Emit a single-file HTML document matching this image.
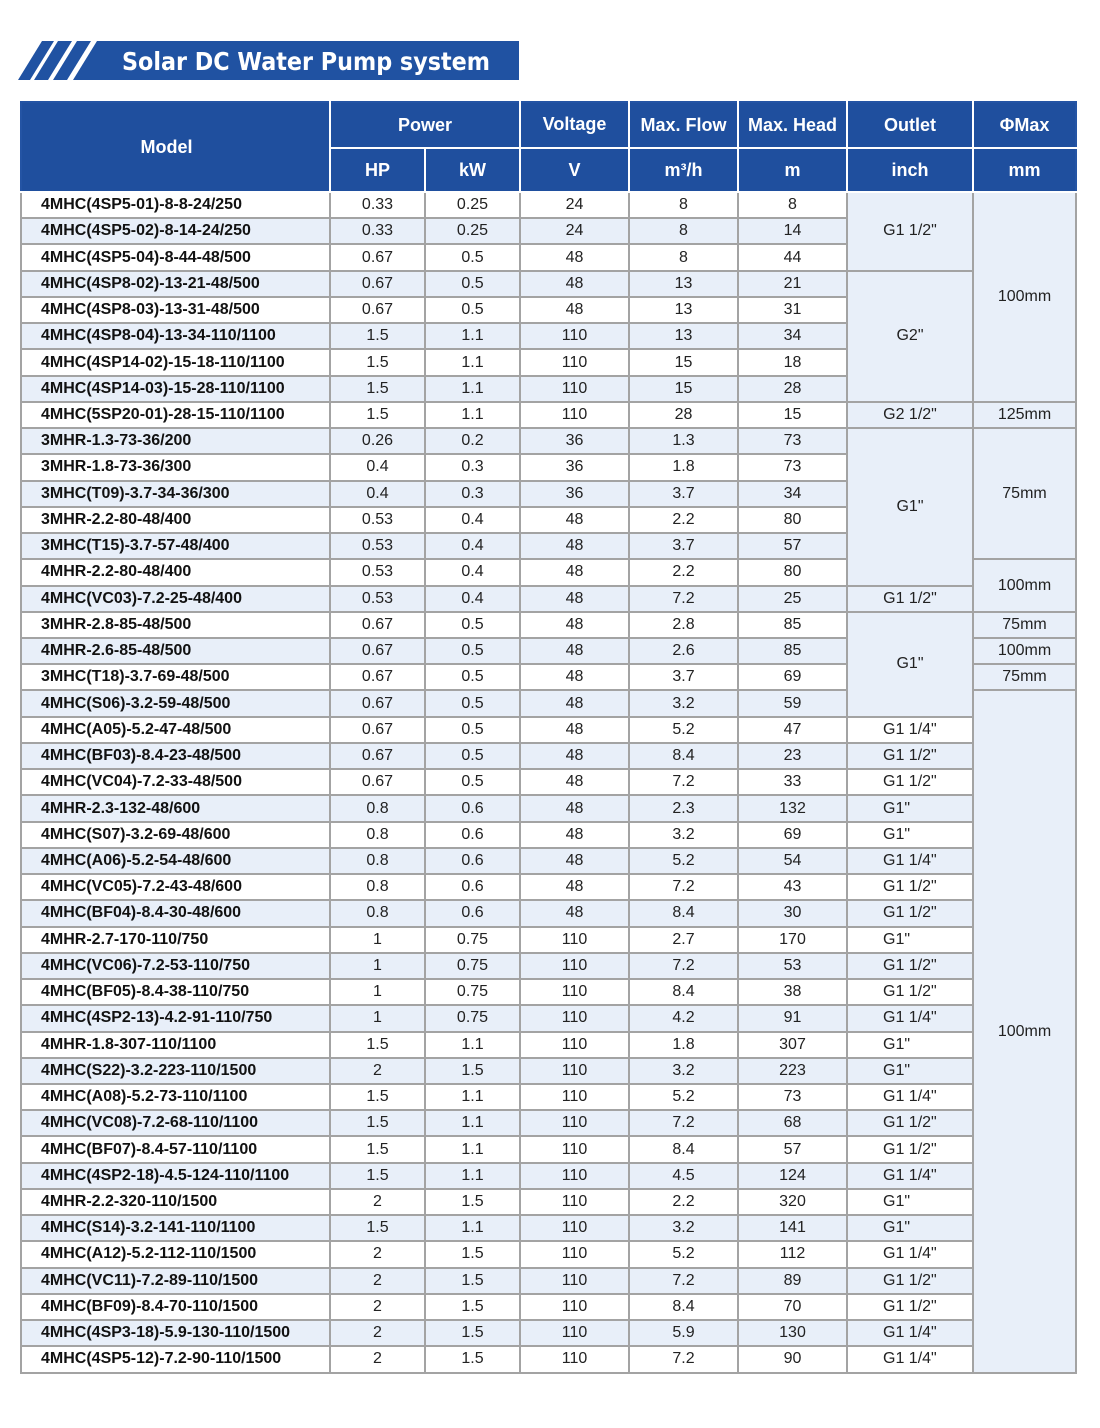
<!DOCTYPE html>
<html><head><meta charset="utf-8"><style>
body{margin:0;background:#fff;width:1100px;height:1428px;position:relative;font-family:"Liberation Sans",Arial,sans-serif;}
#title{position:absolute;left:0;top:0;}
table{position:absolute;left:20px;top:101px;width:1055px;border-collapse:collapse;table-layout:fixed;border:2px solid #2454a4;}
th{background:#1f4f9e;color:#fff;font-weight:bold;font-size:18px;border:2px solid #fff;border-top:none;padding:0;line-height:18px;}
tr.h1{height:46px}
tr.h2{height:44px}
th:first-child{border-left:none}
th:last-child{border-right:none}
tbody tr{height:26.24px}
td{border:2px solid #a3a3a3;padding:0;font-size:16px;color:#222;text-align:center;line-height:18px;}
td.m{text-align:left;padding-left:19px;font-weight:bold;color:#111;}
tr:nth-child(odd) td{background:#fff}
tr:nth-child(even) td{background:#e8eff9}
tr td.b{background:#e8eff9 !important}
td.o{text-align:left;padding-left:35px}
</style></head><body>
<svg id="title" width="560" height="90">
<polygon points="42,41 54,41 30,80 18,80" fill="#2052a2"/>
<polygon points="58,41 72,41 48,80 34,80" fill="#2052a2"/>
<polygon points="77,41 91,41 67,80 53,80" fill="#2052a2"/>
<polygon points="97,41 519,41 519,80 73,80" fill="#2052a2"/>
<text x="122" y="70" fill="#fff" font-family="DejaVu Sans, Liberation Sans, sans-serif" font-weight="bold" font-size="25" textLength="368" lengthAdjust="spacingAndGlyphs">Solar DC Water Pump system</text>
</svg>
<table>
<colgroup><col style="width:309px"><col style="width:95px"><col style="width:95px"><col style="width:109px"><col style="width:109px"><col style="width:109px"><col style="width:126px"><col style="width:103px"></colgroup>
<thead>
<tr class="h1"><th rowspan="2" style="padding-right:18px">Model</th><th colspan="2">Power</th><th style="vertical-align:top;padding-top:12px">Voltage</th><th>Max. Flow</th><th>Max. Head</th><th>Outlet</th><th>ΦMax</th></tr>
<tr class="h2"><th>HP</th><th>kW</th><th>V</th><th>m³/h</th><th>m</th><th>inch</th><th>mm</th></tr>
</thead>
<tbody>
<tr><td class="m">4MHC(4SP5-01)-8-8-24/250</td><td>0.33</td><td>0.25</td><td>24</td><td>8</td><td>8</td><td rowspan="3" class="b">G1 1/2"</td><td rowspan="8" class="b">100mm</td></tr>
<tr><td class="m">4MHC(4SP5-02)-8-14-24/250</td><td>0.33</td><td>0.25</td><td>24</td><td>8</td><td>14</td></tr>
<tr><td class="m">4MHC(4SP5-04)-8-44-48/500</td><td>0.67</td><td>0.5</td><td>48</td><td>8</td><td>44</td></tr>
<tr><td class="m">4MHC(4SP8-02)-13-21-48/500</td><td>0.67</td><td>0.5</td><td>48</td><td>13</td><td>21</td><td rowspan="5" class="b">G2"</td></tr>
<tr><td class="m">4MHC(4SP8-03)-13-31-48/500</td><td>0.67</td><td>0.5</td><td>48</td><td>13</td><td>31</td></tr>
<tr><td class="m">4MHC(4SP8-04)-13-34-110/1100</td><td>1.5</td><td>1.1</td><td>110</td><td>13</td><td>34</td></tr>
<tr><td class="m">4MHC(4SP14-02)-15-18-110/1100</td><td>1.5</td><td>1.1</td><td>110</td><td>15</td><td>18</td></tr>
<tr><td class="m">4MHC(4SP14-03)-15-28-110/1100</td><td>1.5</td><td>1.1</td><td>110</td><td>15</td><td>28</td></tr>
<tr><td class="m">4MHC(5SP20-01)-28-15-110/1100</td><td>1.5</td><td>1.1</td><td>110</td><td>28</td><td>15</td><td class="b">G2 1/2"</td><td class="b">125mm</td></tr>
<tr><td class="m">3MHR-1.3-73-36/200</td><td>0.26</td><td>0.2</td><td>36</td><td>1.3</td><td>73</td><td rowspan="6" class="b">G1"</td><td rowspan="5" class="b">75mm</td></tr>
<tr><td class="m">3MHR-1.8-73-36/300</td><td>0.4</td><td>0.3</td><td>36</td><td>1.8</td><td>73</td></tr>
<tr><td class="m">3MHC(T09)-3.7-34-36/300</td><td>0.4</td><td>0.3</td><td>36</td><td>3.7</td><td>34</td></tr>
<tr><td class="m">3MHR-2.2-80-48/400</td><td>0.53</td><td>0.4</td><td>48</td><td>2.2</td><td>80</td></tr>
<tr><td class="m">3MHC(T15)-3.7-57-48/400</td><td>0.53</td><td>0.4</td><td>48</td><td>3.7</td><td>57</td></tr>
<tr><td class="m">4MHR-2.2-80-48/400</td><td>0.53</td><td>0.4</td><td>48</td><td>2.2</td><td>80</td><td rowspan="2" class="b">100mm</td></tr>
<tr><td class="m">4MHC(VC03)-7.2-25-48/400</td><td>0.53</td><td>0.4</td><td>48</td><td>7.2</td><td>25</td><td class="b">G1 1/2"</td></tr>
<tr><td class="m">3MHR-2.8-85-48/500</td><td>0.67</td><td>0.5</td><td>48</td><td>2.8</td><td>85</td><td rowspan="4" class="b">G1"</td><td class="b">75mm</td></tr>
<tr><td class="m">4MHR-2.6-85-48/500</td><td>0.67</td><td>0.5</td><td>48</td><td>2.6</td><td>85</td><td class="b">100mm</td></tr>
<tr><td class="m">3MHC(T18)-3.7-69-48/500</td><td>0.67</td><td>0.5</td><td>48</td><td>3.7</td><td>69</td><td class="b">75mm</td></tr>
<tr><td class="m">4MHC(S06)-3.2-59-48/500</td><td>0.67</td><td>0.5</td><td>48</td><td>3.2</td><td>59</td><td rowspan="26" class="b">100mm</td></tr>
<tr><td class="m">4MHC(A05)-5.2-47-48/500</td><td>0.67</td><td>0.5</td><td>48</td><td>5.2</td><td>47</td><td class="o">G1 1/4"</td></tr>
<tr><td class="m">4MHC(BF03)-8.4-23-48/500</td><td>0.67</td><td>0.5</td><td>48</td><td>8.4</td><td>23</td><td class="o">G1 1/2"</td></tr>
<tr><td class="m">4MHC(VC04)-7.2-33-48/500</td><td>0.67</td><td>0.5</td><td>48</td><td>7.2</td><td>33</td><td class="o">G1 1/2"</td></tr>
<tr><td class="m">4MHR-2.3-132-48/600</td><td>0.8</td><td>0.6</td><td>48</td><td>2.3</td><td>132</td><td class="o">G1"</td></tr>
<tr><td class="m">4MHC(S07)-3.2-69-48/600</td><td>0.8</td><td>0.6</td><td>48</td><td>3.2</td><td>69</td><td class="o">G1"</td></tr>
<tr><td class="m">4MHC(A06)-5.2-54-48/600</td><td>0.8</td><td>0.6</td><td>48</td><td>5.2</td><td>54</td><td class="o">G1 1/4"</td></tr>
<tr><td class="m">4MHC(VC05)-7.2-43-48/600</td><td>0.8</td><td>0.6</td><td>48</td><td>7.2</td><td>43</td><td class="o">G1 1/2"</td></tr>
<tr><td class="m">4MHC(BF04)-8.4-30-48/600</td><td>0.8</td><td>0.6</td><td>48</td><td>8.4</td><td>30</td><td class="o">G1 1/2"</td></tr>
<tr><td class="m">4MHR-2.7-170-110/750</td><td>1</td><td>0.75</td><td>110</td><td>2.7</td><td>170</td><td class="o">G1"</td></tr>
<tr><td class="m">4MHC(VC06)-7.2-53-110/750</td><td>1</td><td>0.75</td><td>110</td><td>7.2</td><td>53</td><td class="o">G1 1/2"</td></tr>
<tr><td class="m">4MHC(BF05)-8.4-38-110/750</td><td>1</td><td>0.75</td><td>110</td><td>8.4</td><td>38</td><td class="o">G1 1/2"</td></tr>
<tr><td class="m">4MHC(4SP2-13)-4.2-91-110/750</td><td>1</td><td>0.75</td><td>110</td><td>4.2</td><td>91</td><td class="o">G1 1/4"</td></tr>
<tr><td class="m">4MHR-1.8-307-110/1100</td><td>1.5</td><td>1.1</td><td>110</td><td>1.8</td><td>307</td><td class="o">G1"</td></tr>
<tr><td class="m">4MHC(S22)-3.2-223-110/1500</td><td>2</td><td>1.5</td><td>110</td><td>3.2</td><td>223</td><td class="o">G1"</td></tr>
<tr><td class="m">4MHC(A08)-5.2-73-110/1100</td><td>1.5</td><td>1.1</td><td>110</td><td>5.2</td><td>73</td><td class="o">G1 1/4"</td></tr>
<tr><td class="m">4MHC(VC08)-7.2-68-110/1100</td><td>1.5</td><td>1.1</td><td>110</td><td>7.2</td><td>68</td><td class="o">G1 1/2"</td></tr>
<tr><td class="m">4MHC(BF07)-8.4-57-110/1100</td><td>1.5</td><td>1.1</td><td>110</td><td>8.4</td><td>57</td><td class="o">G1 1/2"</td></tr>
<tr><td class="m">4MHC(4SP2-18)-4.5-124-110/1100</td><td>1.5</td><td>1.1</td><td>110</td><td>4.5</td><td>124</td><td class="o">G1 1/4"</td></tr>
<tr><td class="m">4MHR-2.2-320-110/1500</td><td>2</td><td>1.5</td><td>110</td><td>2.2</td><td>320</td><td class="o">G1"</td></tr>
<tr><td class="m">4MHC(S14)-3.2-141-110/1100</td><td>1.5</td><td>1.1</td><td>110</td><td>3.2</td><td>141</td><td class="o">G1"</td></tr>
<tr><td class="m">4MHC(A12)-5.2-112-110/1500</td><td>2</td><td>1.5</td><td>110</td><td>5.2</td><td>112</td><td class="o">G1 1/4"</td></tr>
<tr><td class="m">4MHC(VC11)-7.2-89-110/1500</td><td>2</td><td>1.5</td><td>110</td><td>7.2</td><td>89</td><td class="o">G1 1/2"</td></tr>
<tr><td class="m">4MHC(BF09)-8.4-70-110/1500</td><td>2</td><td>1.5</td><td>110</td><td>8.4</td><td>70</td><td class="o">G1 1/2"</td></tr>
<tr><td class="m">4MHC(4SP3-18)-5.9-130-110/1500</td><td>2</td><td>1.5</td><td>110</td><td>5.9</td><td>130</td><td class="o">G1 1/4"</td></tr>
<tr><td class="m">4MHC(4SP5-12)-7.2-90-110/1500</td><td>2</td><td>1.5</td><td>110</td><td>7.2</td><td>90</td><td class="o">G1 1/4"</td></tr>
</tbody></table>
</body></html>
